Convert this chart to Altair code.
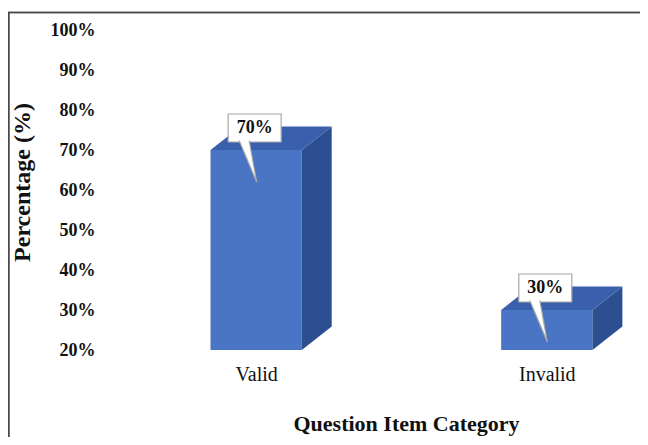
import altair as alt
import pandas as pd

# ---- data ----
categories = ["Valid", "Invalid"]
percentages = [70, 30]
bar_labels = ["70%", "30%"]
y_ticks = [20, 30, 40, 50, 60, 70, 80, 90, 100]

# ---- style constants (3-D look) ----
BASE = 20          # axis floor
HALF_W = 0.157     # half width of front face, in category units
DX = 0.103         # depth shift to the right, category units
DY = 5.9           # depth shift upwards, percentage units
FONT = "Liberation Serif"
FRONT = "#4a74c4"
TOP = "#3a60ad"
SIDE = "#2c4f92"

positions = [i + 1 for i in range(len(categories))]

front = pd.DataFrame({"cat": categories, "pos": positions, "value": percentages,
                      "label": bar_labels})
front["x0"] = front["pos"] - HALF_W
front["x1"] = front["pos"] + HALF_W
front["base"] = BASE

side_rows, top_rows = [], []
for c, p, v in zip(categories, positions, percentages):
    xl, xr = p - HALF_W, p + HALF_W
    side_rows += [{"cat": c, "x": xr, "top": v, "bot": BASE},
                  {"cat": c, "x": xr + DX, "top": v + DY, "bot": BASE + DY}]
    top_rows += [{"cat": c, "y": v, "xa": xl, "xb": xr},
                 {"cat": c, "y": v + DY, "xa": xl + DX, "xb": xr + DX}]
side = pd.DataFrame(side_rows)
topf = pd.DataFrame(top_rows)

xs = alt.Scale(domain=[0.48, 2.3], nice=False, zero=False)
ys = alt.Scale(domain=[20, 100], nice=False, zero=False)

label_expr = " : ".join(
    [f"datum.value == {p} ? '{c}'" for p, c in zip(positions, categories)] + ["''"])

x_axis = alt.Axis(values=positions, labelExpr=label_expr, grid=False, domain=False,
                  ticks=False, tickSize=0, labelPadding=14, labelFont=FONT,
                  labelFontSize=20, labelColor="#111", labelOverlap=False,
                  title="Question Item Category",
                  titleFont=FONT, titleFontSize=22, titleFontWeight="bold",
                  titleColor="#111", titleX=301, titleY=80, titleAlign="center",
                  titleBaseline="alphabetic", titleAnchor="start")
y_axis = alt.Axis(values=y_ticks, labelExpr="datum.value + '%'", grid=False,
                  domain=False, ticks=False, tickSize=0, labelPadding=10,
                  labelFont=FONT, labelFontSize=18, labelFontWeight="bold",
                  labelColor="#111", labelOverlap=False, labelBound=False,
                  labelSeparation=0, tickCount=9,
                  title="Percentage (%)", titleFont=FONT,
                  titleFontSize=24, titleFontWeight="bold", titleColor="#111",
                  titleAngle=-90, titleX=-76, titleY=152, titleAlign="center",
                  titleBaseline="alphabetic", titleAnchor="start")

front_layer = alt.Chart(front).mark_rect(color=FRONT).encode(
    x=alt.X("x0:Q", scale=xs, axis=x_axis),
    x2="x1:Q",
    y=alt.Y("value:Q", scale=ys, axis=y_axis),
    y2="base:Q",
)

border = alt.Chart(front).mark_rect(filled=False, stroke="#4a4a4a", strokeWidth=1.5).encode(
    x=alt.value(-96.25), x2=alt.value(900), y=alt.value(-17.5), y2=alt.value(700))

side_layer = alt.Chart(side).mark_area(color=SIDE, orient="vertical").encode(
    x=alt.X("x:Q", scale=xs),
    y=alt.Y("top:Q", scale=ys),
    y2="bot:Q",
    detail="cat:N",
)

top_layer = alt.Chart(topf).mark_area(color=TOP, orient="horizontal").encode(
    y=alt.Y("y:Q", scale=ys),
    x=alt.X("xa:Q", scale=xs),
    x2="xb:Q",
    detail="cat:N",
)

box = alt.Chart(front).mark_rect(fill="white", stroke="#a8a8a8", strokeWidth=1.2,
                                 xOffset=-28, x2Offset=25, yOffset=-36, y2Offset=-8).encode(
    x=alt.X("pos:Q", scale=xs),
    x2="pos:Q",
    y=alt.Y("value:Q", scale=ys),
    y2="value:Q",
)

pointer_path = "M -0.531 -0.297 L 0.016 1 L -0.219 -0.297"
pointer = alt.Chart(front).mark_point(shape=pointer_path, size=4096, filled=True,
                                      fill="white", stroke="#a8a8a8", strokeWidth=1.2,
                                      opacity=1, fillOpacity=1, strokeOpacity=1).encode(
    x=alt.X("pos:Q", scale=xs),
    y=alt.Y("value:Q", scale=ys),
)

text = alt.Chart(front).mark_text(font=FONT, fontSize=18, fontWeight="bold",
                                  color="#111", align="center", baseline="middle",
                                  dx=-1.5, dy=-22).encode(
    x=alt.X("pos:Q", scale=xs),
    y=alt.Y("value:Q", scale=ys),
    text="label:N",
)

chart = alt.layer(front_layer, border, side_layer, top_layer, box, pointer, text).properties(
    width=529, height=320,
    autosize=alt.AutoSizeParams(type="none"),
    padding={"left": 97, "top": 22, "right": 6, "bottom": 87},
    background="white",
).configure_view(strokeWidth=0).configure_axis(labelOverlap=False)

chart.save("out.html", embed_options={"renderer": "svg", "actions": False})
